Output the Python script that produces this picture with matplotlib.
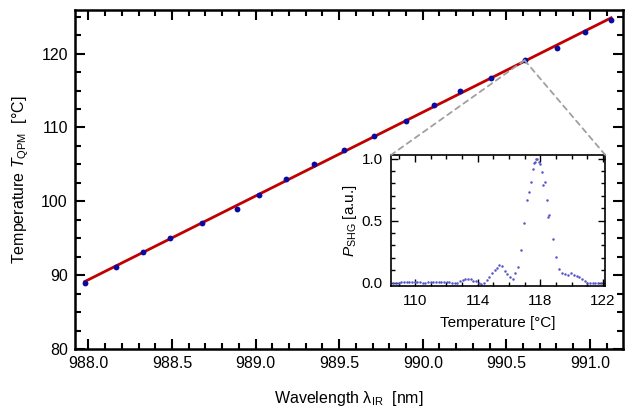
import numpy as np
import matplotlib
matplotlib.use("Agg")
import matplotlib.pyplot as plt
from matplotlib.patches import ConnectionPatch
from matplotlib.ticker import MultipleLocator, FixedLocator, FormatStrFormatter

plt.rcParams['font.family'] = ['Liberation Sans', 'DejaVu Sans']
plt.rcParams['mathtext.fontset'] = 'custom'
plt.rcParams['mathtext.rm'] = 'Liberation Sans'
plt.rcParams['mathtext.it'] = 'Liberation Sans:italic'

# Main data: QPM temperature vs IR wavelength
wavelength = [987.978, 988.167, 988.328, 988.488, 988.678, 988.889, 989.019,
              989.180, 989.349, 989.529, 989.708, 989.899, 990.067, 990.222,
              990.407, 990.609, 990.801, 990.972, 991.127]
temperature = [89.0, 91.1, 93.1, 95.0, 97.0, 99.0, 100.9, 103.0, 105.0, 106.9,
               108.9, 110.9, 113.0, 114.9, 116.7, 119.1, 120.8, 122.9, 124.6]
zoom_index = 15

# Inset data: SHG power vs temperature
inset_T = [108.62, 108.79, 108.96, 109.13, 109.30, 109.47, 109.64, 109.81, 109.98,
           110.15, 110.32, 110.49, 110.66, 110.83, 111.00, 111.17, 111.34, 111.51,
           111.68, 111.85, 112.02, 112.19, 112.36, 112.53, 112.70, 112.87, 113.04,
           113.21, 113.38, 113.55, 113.72, 113.89, 114.06, 114.23, 114.40, 114.57,
           114.74, 114.91, 115.09, 115.21, 115.38, 115.55, 115.72, 115.89, 116.06,
           116.23, 116.40, 116.57, 116.79, 116.96, 117.17, 117.30, 117.38, 117.51,
           117.60, 117.68, 117.74, 117.81, 117.91, 118.00, 118.11, 118.19, 118.28,
           118.40, 118.49, 118.57, 118.79, 119.00, 119.21, 119.38, 119.60, 119.77,
           119.98, 120.15, 120.32, 120.49, 120.66, 120.83, 121.00, 121.17, 121.34,
           121.51, 121.68, 121.89]
inset_P = [0.0, 0.0, 0.0, 0.002, 0.003, 0.003, 0.003, 0.003, 0.003,
           0.003, 0.002, -0.005, -0.005, 0.002, 0.003, 0.003, 0.003, 0.003,
           0.003, 0.003, 0.003, 0.003, -0.005, -0.005, 0.0, 0.011, 0.022,
           0.03, 0.03, 0.027, 0.011, 0.011, 0.0, -0.008, 0.0, 0.022,
           0.049, 0.075, 0.102, 0.12, 0.143, 0.134, 0.097, 0.07, 0.049,
           0.030, 0.075, 0.124, 0.263, 0.478, 0.667, 0.734, 0.809, 0.914,
           0.962, 0.970, 1.0, 1.0, 0.976, 0.957, 0.89, 0.788, 0.809,
           0.667, 0.527, 0.543, 0.352, 0.204, 0.113, 0.081, 0.07, 0.065,
           0.075, 0.065, 0.054, 0.043, 0.027, 0.011, 0.0, -0.005, 0.0,
           0.0, 0.0, 0.0]
inset_xticks = [110, 114, 118, 122]

fig = plt.figure(figsize=(6.25, 4.15), dpi=100)
ax = fig.add_axes([74.7/625, 1-349/415, (622.7-74.7)/625, (349-10)/415])

coef = np.polyfit(wavelength, temperature, 1)
xfit = np.array([wavelength[0], wavelength[-1]])
ax.plot(xfit, np.polyval(coef, xfit), color='#c00000', lw=2.0, zorder=2)
ax.plot(wavelength, temperature, 'o', color='#0a0aa0', ms=4.2, mec='none', zorder=3)

ax.set_xlim(987.918, 991.196)
ax.set_ylim(80, 125.9)
ax.xaxis.set_major_locator(MultipleLocator(0.5))
ax.xaxis.set_minor_locator(MultipleLocator(0.1))
ax.yaxis.set_major_locator(MultipleLocator(10))
ax.yaxis.set_minor_locator(MultipleLocator(2.5))
ax.xaxis.set_major_formatter(FormatStrFormatter('%.1f'))
ax.tick_params(which='both', direction='in', top=True, right=True, width=1.5,
               labelsize=11.5, pad=5)
ax.tick_params(which='major', length=7)
ax.tick_params(which='minor', length=4)
for s in ax.spines.values():
    s.set_linewidth(1.8)
ax.set_xlabel('Wavelength λ$_{\\mathrm{IR}}$  [nm]', fontsize=11.5, labelpad=13)
ax.set_ylabel('Temperature $T_{\\mathrm{QPM}}$  [°C]', fontsize=11.5, labelpad=7)

# Inset
ins = fig.add_axes([391/625, 1-285.7/415, (605.3-391)/625, (285.7-155)/415])
ins.plot(inset_T, inset_P, 'o', color='#5555cc', ms=1.8, mec='none')
ins.set_xlim(108.47, 122.15)
ins.set_ylim(-0.025, 1.03)
ins.xaxis.set_major_locator(FixedLocator(inset_xticks))
ins.xaxis.set_minor_locator(MultipleLocator(1))
ins.yaxis.set_major_locator(MultipleLocator(0.5))
ins.yaxis.set_minor_locator(MultipleLocator(0.1))
ins.yaxis.set_major_formatter(FormatStrFormatter('%.1f'))
ins.tick_params(which='both', direction='in', top=True, right=True, width=1.0,
                labelsize=11, pad=6)
ins.tick_params(which='major', length=5)
ins.tick_params(which='minor', length=3)
for s in ins.spines.values():
    s.set_linewidth(1.2)
ins.set_xlabel('Temperature [°C]', fontsize=11, labelpad=6)
ins.set_ylabel('$P_{\\mathrm{SHG}}$ [a.u.]', fontsize=11, labelpad=2)

pt = (wavelength[zoom_index], temperature[zoom_index])
for corner in [(0, 1), (1, 1)]:
    con = ConnectionPatch(xyA=pt, coordsA=ax.transData, xyB=corner,
                          coordsB=ins.transAxes, color='#a0a0a0', lw=1.3,
                          ls=(0, (3, 2.5)), zorder=1)
    fig.add_artist(con)

fig.savefig('out.png', dpi=100)
